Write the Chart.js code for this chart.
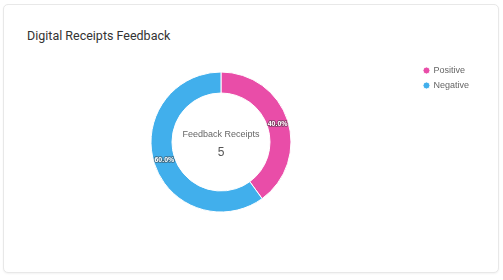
<!DOCTYPE html>
<html>
<head>
<meta charset="utf-8">
<script src="https://cdn.jsdelivr.net/npm/chart.js@4.4.0/dist/chart.umd.min.js"></script>
<style>
  html, body { margin: 0; padding: 0; background: #fff; width: 503px; height: 280px; overflow: hidden; }
  .card { position: absolute; left: 3px; top: 4px; width: 494px; height: 267px; border: 1px solid #e8e8e8; border-radius: 5px; box-shadow: 0 1px 2px rgba(0,0,0,0.05); background: #fff; }
  .title { position: absolute; left: 27px; top: 28px; font-family: Roboto, "Liberation Sans", sans-serif; font-size: 12.5px; color: #333; }
  .wrap { position: absolute; left: 24px; top: 60px; width: 455px; height: 164px; }
</style>
</head>
<body>
<div class="card"></div>
<div class="title">Digital Receipts Feedback</div>
<div class="wrap"><canvas id="c"></canvas></div>
<script>
const categories = ["Positive", "Negative"];
const values = [2, 3];
const colors = ["#E94DA8", "#41AFEC"];
const centerTitle = "Feedback Receipts";
const centerValue = "5";

const total = values.reduce((a, b) => a + b, 0);

const centerText = {
  id: 'centerText',
  afterDatasetsDraw(chart) {
    const meta = chart.getDatasetMeta(0);
    const arc = meta.data[0];
    const x = arc.x, y = arc.y;
    const ctx = chart.ctx;
    ctx.save();
    ctx.textAlign = 'center';
    ctx.textBaseline = 'middle';
    ctx.fillStyle = '#666';
    ctx.font = '9px Arial, "Liberation Sans", sans-serif';
    ctx.fillText(centerTitle, x, y - 7);
    ctx.fillStyle = '#555';
    ctx.font = '12px Arial, "Liberation Sans", sans-serif';
    ctx.fillText(centerValue, x, y + 11);
    // slice labels
    ctx.font = 'bold 7px Arial, "Liberation Sans", sans-serif';
    meta.data.forEach((el, i) => {
      const p = el.tooltipPosition();
      const txt = (values[i] / total * 100).toFixed(1) + '%';
      ctx.lineWidth = 2;
      ctx.strokeStyle = 'rgba(60,60,60,0.5)';
      ctx.lineJoin = 'round';
      ctx.strokeText(txt, p.x, p.y);
      ctx.fillStyle = '#fff';
      ctx.fillText(txt, p.x, p.y);
    });
    ctx.restore();
  }
};

new Chart(document.getElementById('c'), {
  type: 'doughnut',
  data: {
    labels: categories,
    datasets: [{
      data: values,
      backgroundColor: colors,
      borderColor: '#fff',
      borderWidth: 1,
      hoverOffset: 0
    }]
  },
  options: {
    responsive: true,
    maintainAspectRatio: false,
    animation: false,
    cutout: '70%',
    radius: 70,
    layout: { padding: 0 },
    plugins: {
      tooltip: { enabled: false },
      legend: {
        position: 'right',
        align: 'start',
        labels: {
          usePointStyle: true,
          pointStyle: 'circle',
          boxWidth: 5,
          boxHeight: 5,
          padding: 6,
          color: '#666',
          font: { size: 9, family: 'Arial, "Liberation Sans", sans-serif' }
        }
      }
    }
  },
  plugins: [centerText]
});
</script>
</body>
</html>
